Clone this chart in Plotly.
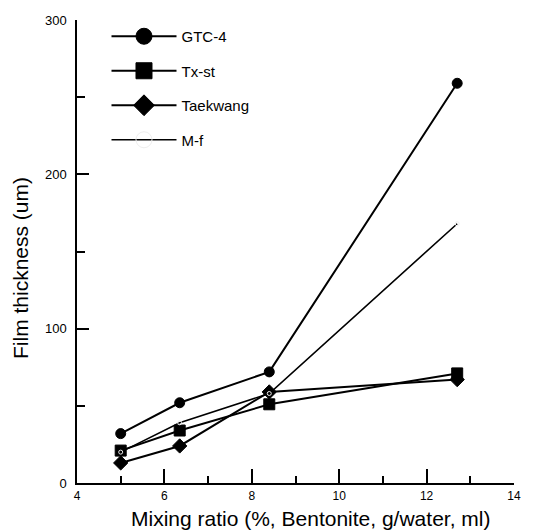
import plotly.graph_objects as go

x_ratio = [5.0, 6.35, 8.4, 12.7]
gtc4 = [32, 52, 72, 259]
txst = [21, 34, 51, 71]
taekwang = [13, 24, 59, 67]
mf = [20, 39, 58, 168]
names = ["GTC-4", "Tx-st", "Taekwang", "M-f"]
x_ticks = [4, 6, 8, 10, 12, 14]
y_ticks = [0, 100, 200, 300]
x_title = "Mixing ratio (%, Bentonite, g/water, ml)"
y_title = "Film thickness (um)"

series = [gtc4, txst, taekwang, mf]
symbols = ["circle", "square", "diamond", "circle-open"]
sizes = [10, 11, 11, 4]
legend_sizes = [20, 18, 18, 16]
mcolors = ["black", "black", "black", "#eeeeee"]
lwidths = [2, 2, 2, 1.6]

fig = go.Figure()
for n, s, sym, sz, mc, lw in zip(names, series, symbols, sizes, mcolors, lwidths):
    fig.add_trace(go.Scatter(
        x=x_ratio, y=s, mode="lines+markers", name=n, showlegend=False,
        line=dict(color="black", width=lw),
        marker=dict(symbol=sym, size=sz, color=mc, line=dict(width=1, color=mc)),
    ))
for n, sym, sz, mc, lw in zip(names, symbols, legend_sizes, mcolors, lwidths):
    fig.add_trace(go.Scatter(
        x=[None], y=[None], mode="lines+markers", name=n, showlegend=True,
        legendgroup=n,
        line=dict(color="black", width=lw),
        marker=dict(symbol=sym, size=sz, color=mc, line=dict(width=1, color=mc)),
    ))

fig.update_layout(
    width=534, height=530,
    margin=dict(l=77, r=20, t=20, b=47),
    paper_bgcolor="white", plot_bgcolor="white",
    font=dict(family="Liberation Sans, Arial, sans-serif", color="black", size=13),
    legend=dict(x=0.0675, y=1.0, xanchor="left", yanchor="top",
                bgcolor="rgba(0,0,0,0)", font=dict(size=15),
                tracegroupgap=12, itemwidth=65),
    xaxis=dict(range=[4, 14], tickvals=x_ticks, ticks="inside", ticklen=14,
               tickwidth=1.5, tickcolor="black",
               minor=dict(dtick=1, ticks="inside", ticklen=7, tickwidth=1.5, tickcolor="black"),
               showline=True, linecolor="black", linewidth=1.5, showgrid=False,
               zeroline=False, tickfont=dict(size=12), ticklabelstandoff=1),
    yaxis=dict(range=[0, 300], tickvals=y_ticks, ticks="inside", ticklen=12,
               tickwidth=1.5, tickcolor="black",
               minor=dict(dtick=50, ticks="inside", ticklen=8, tickwidth=1.5, tickcolor="black"),
               showline=True, linecolor="black", linewidth=1.5, showgrid=False,
               zeroline=False, tickfont=dict(size=13), ticklabelstandoff=6),
    annotations=[
        dict(text=x_title, xref="paper", yref="paper", x=(310 - 77) / 437, y=-(518 - 483) / 463,
             xanchor="center", yanchor="middle", showarrow=False, font=dict(size=21)),
        dict(text=y_title, xref="paper", yref="paper", x=-(77 - 20) / 437, y=(483 - 268) / 463,
             xanchor="center", yanchor="middle", showarrow=False, textangle=-90,
             font=dict(size=21)),
    ],
)
fig.write_html("out.html")
